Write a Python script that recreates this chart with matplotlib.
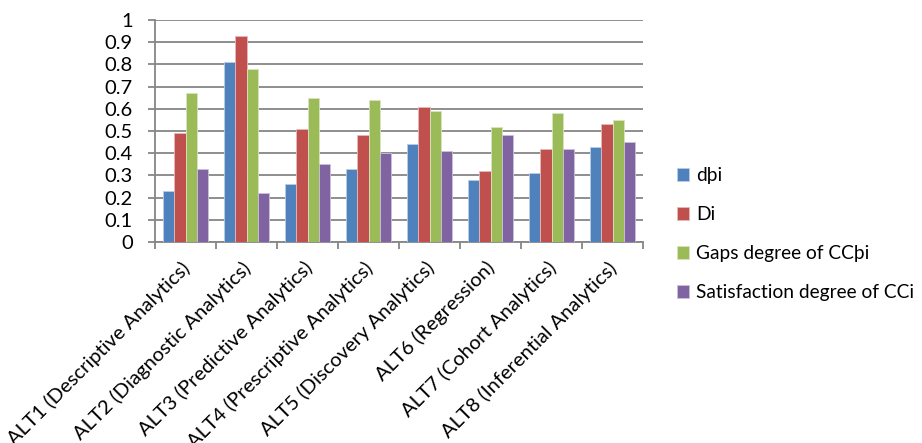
# Grouped bar chart of the four degree measures per analytics alternative

import numpy as np
import matplotlib
matplotlib.use("Agg")
import matplotlib.pyplot as plt
import matplotlib.transforms as mtransforms
matplotlib.rc("font", family=["Lato", "DejaVu Sans"])

# Data
categories = [
    "ALT1 (Descriptive Analytics)",
    "ALT2 (Diagnostic Analytics)",
    "ALT3 (Predictive Analytics)",
    "ALT4 (Prescriptive Analytics)",
    "ALT5 (Discovery Analytics)",
    "ALT6 (Regression)",
    "ALT7 (Cohort Analytics)",
    "ALT8 (Inferential Analytics)",
]
series_names = ["dþi", "Di", "Gaps degree of CCþi", "Satisfaction degree of CCi"]
d_pi = [0.23, 0.81, 0.26, 0.33, 0.44, 0.28, 0.31, 0.43]
d_i = [0.49, 0.93, 0.51, 0.48, 0.61, 0.32, 0.42, 0.53]
gaps_cc = [0.67, 0.78, 0.65, 0.64, 0.59, 0.52, 0.58, 0.55]
satisfaction_cc = [0.33, 0.22, 0.35, 0.40, 0.41, 0.48, 0.42, 0.45]
y_ticks = [0, 0.1, 0.2, 0.3, 0.4, 0.5, 0.6, 0.7, 0.8, 0.9, 1]

# Estilo
colors = ["#4F81BD", "#C0504D", "#9BBB59", "#8064A2"]
edges = ["#B9CDE5", "#E6B9B8", "#D7E4BD", "#CCC1DA"]
grid_color = "#868686"
font_size = 14.5
legend_size = 13.8

fig = plt.figure(figsize=(9.22, 4.43), dpi=100)
ax = fig.add_axes([155 / 922, 1 - 242 / 443, 488 / 922, 222 / 443])

x = np.arange(len(categories))
width = 1 / 5.5
all_series = [d_pi, d_i, gaps_cc, satisfaction_cc]
for i, values in enumerate(all_series):
    ax.bar(x + (i - 1.5) * width, values, width, color=colors[i],
           edgecolor=edges[i], linewidth=0.6, label=series_names[i], zorder=3)

ax.set_xlim(-0.5, len(categories) - 0.5)
ax.set_ylim(0, 1)
ax.set_yticks(y_ticks)
ax.set_yticklabels([f"{t:g}" for t in y_ticks], fontsize=font_size)
ax.yaxis.grid(True, color=grid_color, linewidth=1.3, zorder=0)

# Category ticks at group boundaries, labels at centres
ax.set_xticks(np.arange(len(categories) + 1) - 0.5)
ax.set_xticklabels([])
ax.set_xticks(x, minor=True)
ax.set_xticklabels(categories, minor=True, rotation=45, ha="right",
                   va="top", fontsize=font_size)
ax.tick_params(axis="x", which="minor", length=0, pad=12)
ax.tick_params(axis="x", which="major", length=5, color=grid_color, width=1.3)
ax.tick_params(axis="y", length=5, color=grid_color, width=1.3, pad=11)

shift = mtransforms.ScaledTranslation(8 / 100, 0, fig.dpi_scale_trans)
for label in ax.get_xticklabels(minor=True):
    label.set_transform(label.get_transform() + shift)

for side in ["top", "right"]:
    ax.spines[side].set_visible(False)
for side in ["left", "bottom"]:
    ax.spines[side].set_color(grid_color)
    ax.spines[side].set_linewidth(1.3)

ax.legend(loc="upper left", bbox_to_anchor=(677 / 922, 1 - 167 / 443),
          bbox_transform=fig.transFigure, frameon=False,
          fontsize=legend_size, handlelength=0.65, handleheight=0.65,
          handletextpad=0.35, labelspacing=1.15, borderaxespad=0, borderpad=0)

plt.savefig("out.png", dpi=100)
